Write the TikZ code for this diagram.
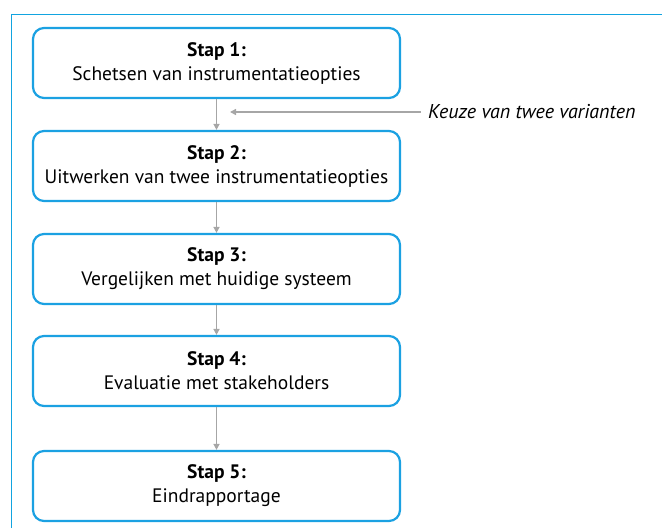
\documentclass[tikz,border=0pt]{standalone}
\usepackage{fontspec}
\setmainfont{PT Sans}
\usetikzlibrary{arrows.meta}
\definecolor{frameblue}{HTML}{12A4E0}
\definecolor{boxblue}{HTML}{1BA1E2}
\definecolor{arrowgray}{HTML}{A6A6A6}
\tikzset{
  stepbox/.style={draw=boxblue, line width=2.2pt, rounded corners=11pt,
    minimum width=367pt, minimum height=70pt, align=center,
    font=\fontsize{19.5}{24}\selectfont, inner sep=0pt},
  flow/.style={draw=arrowgray, line width=1.6pt,
    -{Triangle[length=6pt,width=6pt]}},
}
\begin{document}
\begin{tikzpicture}[x=1pt,y=-1pt]
  \useasboundingbox (0,0) rectangle (662,528);
  % open frame along the top and left edges
  \draw[frameblue, line width=1pt] (11,528) -- (11,14) -- (662,14);

  \node[stepbox] (s1) at (216.5,63)  {\textbf{Stap 1:}\\Schetsen van instrumentatieopties};
  \node[stepbox] (s2) at (216.5,166) {\textbf{Stap 2:}\\Uitwerken van twee instrumentatieopties};
  \node[stepbox] (s3) at (216.5,269) {\textbf{Stap 3:}\\Vergelijken met huidige systeem};
  \node[stepbox] (s4) at (216.5,371) {\textbf{Stap 4:}\\Evaluatie met stakeholders};
  \node[stepbox] (s5) at (216.5,486) {\textbf{Stap 5:}\\Eindrapportage};

  \draw[flow] (s1) -- (s2);
  \draw[flow] (s2) -- (s3);
  \draw[flow] (s3) -- (s4);
  \draw[flow] (s4) -- (s5);

  % side note on the choice between steps 1 and 2
  \node[anchor=west, inner sep=0pt, font=\fontsize{20}{24}\selectfont\itshape]
    (keuze) at (428,112) {Keuze van twee varianten};
  \coordinate (pick) at (230,112);
  \draw[flow] ([xshift=-7pt]keuze.west) -- (pick);
\end{tikzpicture}
\end{document}
